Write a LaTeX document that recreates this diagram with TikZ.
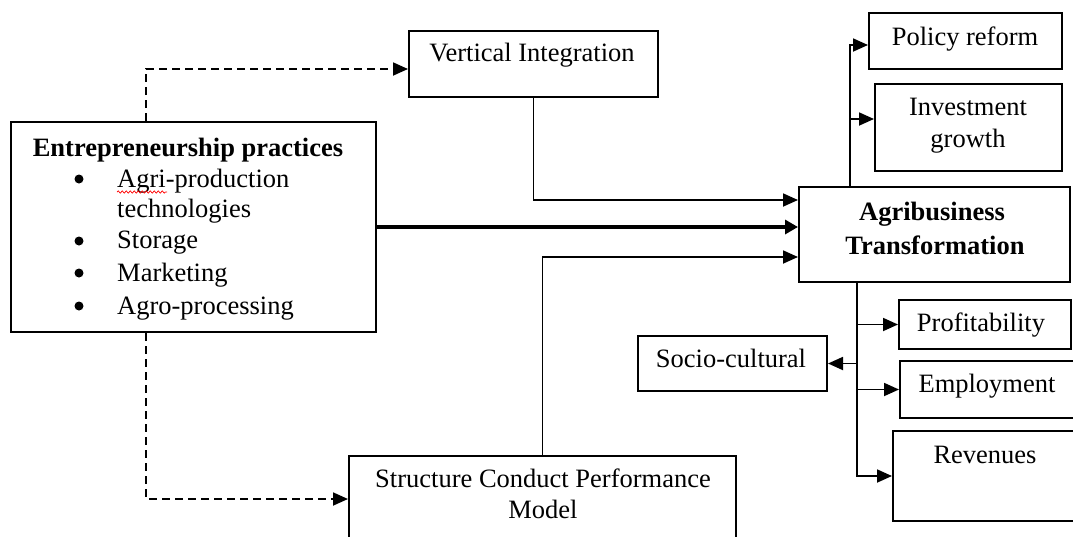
\documentclass[tikz,border=0pt]{standalone}
\usepackage{fontspec}
\setmainfont{Liberation Serif}
\usetikzlibrary{arrows.meta,decorations.pathmorphing}
\begin{document}
\begin{tikzpicture}[x=1pt,y=-1pt,
  box/.style={draw, line width=2pt, rectangle, inner sep=0pt, anchor=north west},
  txt/.style={anchor=base, inner sep=0pt, font=\fontsize{26.5}{33}\selectfont},
  btxt/.style={txt, font=\fontsize{26.5}{33}\selectfont\bfseries},
  ltxt/.style={txt, anchor=base west},
  bul/.style={circle, fill, inner sep=0pt, minimum size=9pt},
  arr/.style={line width=1.8pt, -{Triangle[length=15pt,width=13pt]}},
  darr/.style={arr, dash pattern=on 8pt off 5pt},
  tarr/.style={line width=4.5pt, -{Triangle[length=13pt,width=14pt]}}]
\useasboundingbox (0,0) rectangle (1073,536);
\clip (0,0) rectangle (1073,536);
\fill[white] (0,0) rectangle (1073,536);

% boxes
\node[box, minimum width=365pt, minimum height=210pt] (ep) at (10,121) {};
\node[box, minimum width=249pt, minimum height=66pt] (vi) at (408,30) {};
\node[box, minimum width=193pt, minimum height=56pt] (pol) at (868,12) {};
\node[box, minimum width=187pt, minimum height=87pt] (inv) at (874,83) {};
\node[box, minimum width=271pt, minimum height=95pt] (agri) at (798,186) {};
\node[box, minimum width=172pt, minimum height=49pt] (prof) at (898,299) {};
\node[box, minimum width=189pt, minimum height=55pt] (soc) at (637,335) {};
\node[box, minimum width=180pt, minimum height=57pt] (emp) at (899,360) {};
\node[box, minimum width=185pt, minimum height=90pt] (rev) at (892,430) {};
\node[box, minimum width=387pt, minimum height=105pt] (scp) at (348,455) {};

% texts
\node[btxt] (ept) at (188,156) {Entrepreneurship practices};
\node[bul] (b1) at (79,179) {};
\node[ltxt] (i1) at (117,187) {Agri-production};
\node[ltxt] (i1b) at (117,217) {technologies};
\node[bul] (b2) at (79,241) {};
\node[ltxt] (i2) at (117,248) {Storage};
\node[bul] (b3) at (79,273) {};
\node[ltxt] (i3) at (117,281) {Marketing};
\node[bul] (b4) at (79,306) {};
\node[ltxt] (i4) at (117,314) {Agro-processing};
\draw[red, line width=0.7pt, decorate, decoration={snake, amplitude=1.1pt, segment length=4pt}] (117,192) -- (167,192);

\node[txt] (vit) at (532,61) {Vertical Integration};
\node[txt] (polt) at (965,45) {Policy reform};
\node[txt] (invt1) at (968,115) {Investment};
\node[txt] (invt2) at (968,147) {growth};
\node[btxt] (agt1) at (932,220) {Agribusiness};
\node[btxt] (agt2) at (935,254) {Transformation};
\node[txt] (proft) at (981,331) {Profitability};
\node[txt] (soct) at (731,367) {Socio-cultural};
\node[txt] (empt) at (987,392) {Employment};
\node[txt] (revt) at (985,463) {Revenues};
\node[txt] (scpt1) at (543,487) {Structure Conduct Performance};
\node[txt] (scpt2) at (543,518) {Model};

% connectors
\draw[darr] ([xshift=-47.5pt]ep.north) |- ([yshift=-5pt]vi.west);
\draw[darr] ([xshift=-47.5pt]ep.south) |- ([yshift=9.5pt]scp.west);
\draw[arr] (vi.south) |- ([yshift=34.5pt]agri.west);
\draw[tarr] (ep.east) -- (ep.east -| agri.west);
\draw[arr] (scp.north) |- ([yshift=-22.5pt]agri.west);

\coordinate (tb) at ([xshift=-84.5pt]agri.north);
\draw[arr] (tb) |- ([yshift=-4pt]pol.west);
\draw[arr] (tb |- inv.west) ++(0,-8.5) -- ([yshift=8.5pt]inv.west);

\coordinate (bb) at ([xshift=-77.5pt]agri.south);
\draw[arr] (bb) |- (rev.west);
\draw[arr] (bb |- prof.west) -- (prof.west);
\draw[arr] (bb |- soc.east) -- (soc.east);
\draw[arr] (bb |- emp.west) -- (emp.west);
\end{tikzpicture}
\end{document}
